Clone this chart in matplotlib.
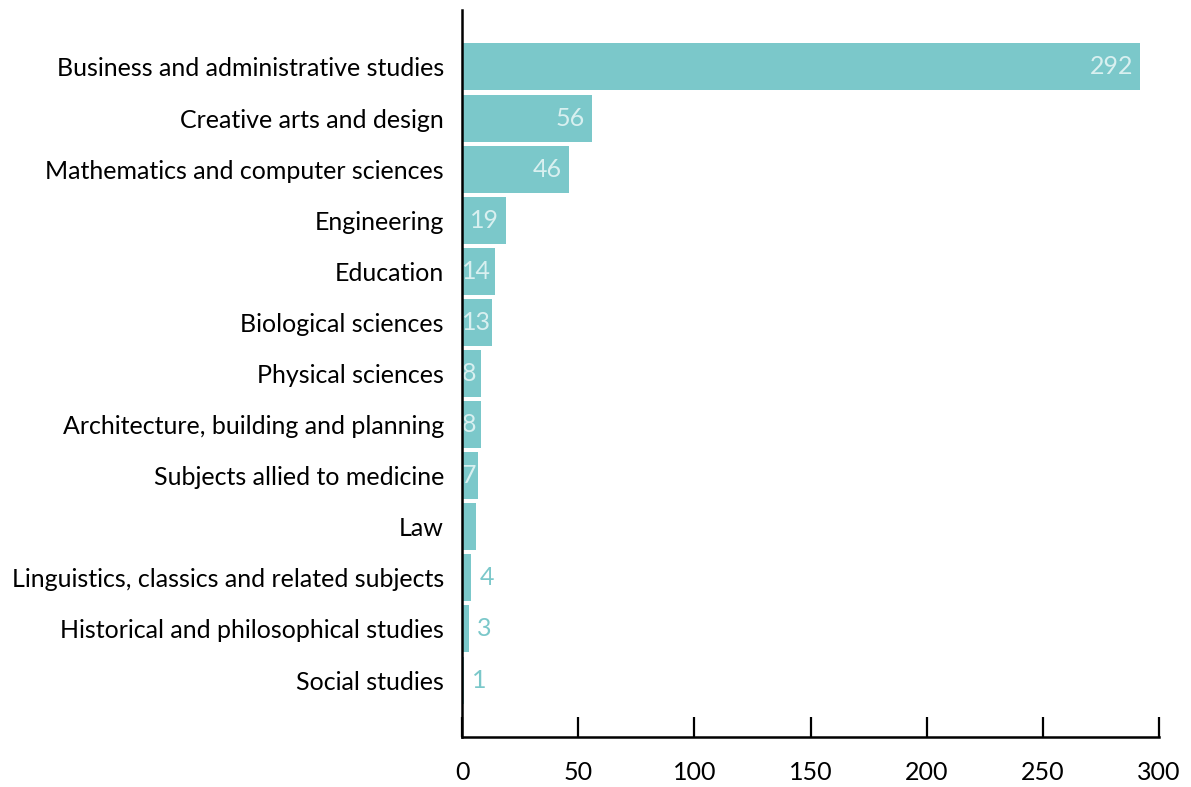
import matplotlib
matplotlib.use("Agg")
from matplotlib import pyplot as plt
from matplotlib import transforms

categories = [
    "Business and administrative studies",
    "Creative arts and design",
    "Mathematics and computer sciences",
    "Engineering",
    "Education",
    "Biological sciences",
    "Physical sciences",
    "Architecture, building and planning",
    "Subjects allied to medicine",
    "Law",
    "Linguistics, classics and related subjects",
    "Historical and philosophical studies",
    "Social studies",
]
values = [292, 56, 46, 19, 14, 13, 8, 8, 7, 6, 4, 3, 1]
# which bars carry a label, and whether it sits inside the bar
labels_inside = [True] * 9 + [None, False, False, False]
x_ticks = [0, 50, 100, 150, 200, 250, 300]

bar_color = "#7bc8ca"
inner_text = "#d9f0f0"
fs = 18

plt.rcParams["font.family"] = ["Lato", "DejaVu Sans"]

fig = plt.figure(figsize=(11.91, 7.87), dpi=100)
ax = fig.add_axes([462 / 1191, 50 / 787, 697 / 1191, 727 / 787])

pos = list(range(len(categories)))
ax.barh(pos, values, height=0.92, color=bar_color, zorder=1)

ax.set_xlim(0, 300)
ax.set_ylim(len(categories) - 1 + 1.115, -1.115)

renderer = fig.canvas.get_renderer()
ax_left = ax.get_window_extent(renderer).x0

for i, (v, inside) in enumerate(zip(values, labels_inside)):
    if inside is None:
        continue
    if inside:
        off = transforms.offset_copy(ax.transData, fig=fig, x=-7, y=0, units="dots")
        t = ax.text(v, i, str(v), transform=off, ha="right", va="center",
                    fontsize=fs, color=inner_text, zorder=2)
        # keep short labels from running past the axis
        if t.get_window_extent(renderer).x0 < ax_left:
            t.set_position((0, i))
            t.set_transform(ax.transData)
            t.set_ha("left")
    else:
        off = transforms.offset_copy(ax.transData, fig=fig, x=8, y=0, units="dots")
        ax.text(v, i, str(v), transform=off, ha="left", va="center",
                fontsize=fs, color=bar_color, zorder=2)

ax.set_yticks(pos)
ax.set_yticklabels(categories, fontsize=fs)
ax.tick_params(axis="y", length=0, pad=13)
ax.set_xticks(x_ticks)
ax.set_xticklabels([str(t) for t in x_ticks], fontsize=fs)
ax.tick_params(axis="x", direction="in", length=14.5, width=1.6, pad=17)

for s in ["top", "right"]:
    ax.spines[s].set_visible(False)
for s in ["left", "bottom"]:
    ax.spines[s].set_linewidth(1.8)
    ax.spines[s].set_zorder(3)

fig.savefig("out.png", dpi=100)
